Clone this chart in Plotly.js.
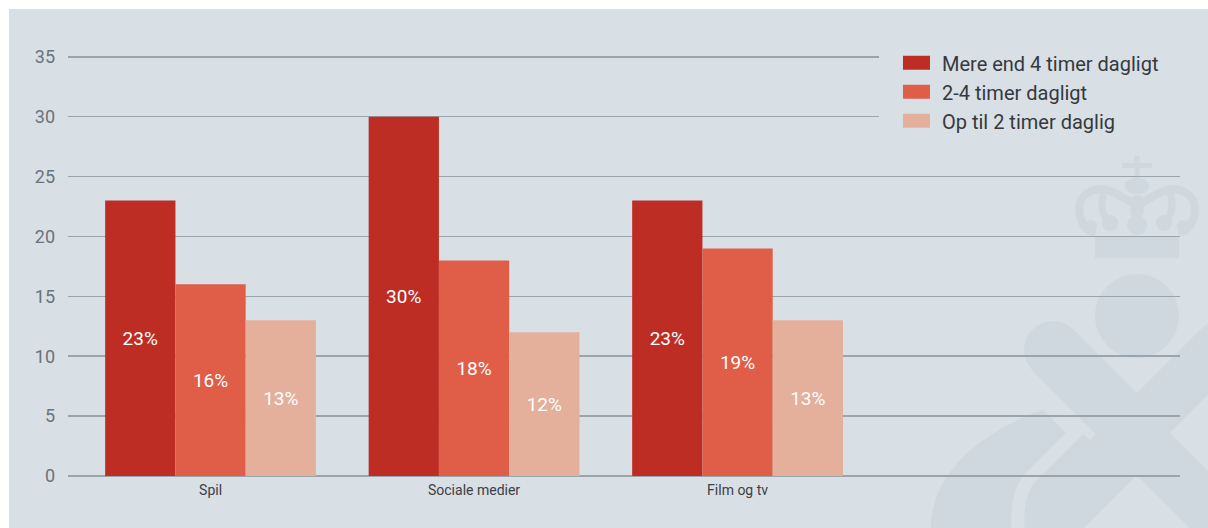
<!DOCTYPE html>
<html>
<head>
<meta charset="utf-8">
<script src="https://cdn.plot.ly/plotly-3.0.1.min.js"></script>
<style>
  html, body { margin: 0; padding: 0; background: #ffffff; }
  #wrap { position: relative; width: 1208px; height: 528px; overflow: hidden; }
  #panel { position: absolute; left: 9px; top: 9px; right: 0; bottom: 0; background: #d8dfe5; }
  #emblem { position: absolute; left: 0; top: 0; }
  #chart { position: absolute; left: 0; top: 0; width: 1208px; height: 528px; }
</style>
</head>
<body>
<div id="wrap">
  <div id="panel"></div>
  <!-- faint crown-and-figure emblem in the panel background -->
  <svg id="emblem" width="1208" height="528" viewBox="0 0 1208 528">
    <g fill="#ced8de" stroke="none">
      <!-- crown -->
      <rect x="1134.5" y="151" width="5" height="28"/>
      <rect x="1122" y="163" width="30" height="5"/>
      <ellipse cx="1137" cy="186" rx="12" ry="8"/>
      <rect x="1095" y="237" width="84" height="21"/>
      <circle cx="1110" cy="223" r="8"/>
      <circle cx="1164" cy="223" r="8"/>
      <circle cx="1137" cy="225" r="10"/>
      <circle cx="1137" cy="211" r="7"/>
      <circle cx="1137" cy="201" r="6"/>
      <circle cx="1091" cy="226" r="6"/>
      <circle cx="1183" cy="226" r="6"/>
      <!-- head -->
      <circle cx="1137" cy="316" r="42"/>
      <!-- lower left sweep -->
      <path d="M931,528 C931,470 985,430 1047,408 L1090,440 L1030,528 Z"/>
    </g>
    <g fill="none" stroke="#ced8de" stroke-linecap="round">
      <path stroke-width="8" d="M1092,232 C1078,226 1076,204 1084,196 C1092,188 1104,188 1112,192 C1122,196 1130,202 1137,206"/>
      <path stroke-width="8" d="M1182,232 C1196,226 1198,204 1190,196 C1182,188 1170,188 1162,192 C1152,196 1144,202 1137,206"/>
      <path stroke-width="7" d="M1103,196 C1100,208 1104,218 1110,223"/>
      <path stroke-width="7" d="M1171,196 C1174,208 1170,218 1164,223"/>
      <!-- crossed arms / body -->
      <line x1="1053" y1="350" x2="1260" y2="557" stroke-width="58"/>
      <line x1="1221" y1="350" x2="1010" y2="561" stroke-width="58"/>
    </g>
    <g fill="none" stroke="#d8dfe5" stroke-width="13" stroke-linejoin="miter">
      <path d="M1046,404 L1075,433 L1030,478 Q1016,494 1018,528"/>
      <path d="M1216,396 L1179,433 L1216,470"/>
      <path d="M1078,545 L1137,486 L1196,545"/>
    </g>
  </svg>
  <div id="chart"></div>
</div>
<script>
// Categories and series (percent of respondents)
const categories = ['Spil', 'Sociale medier', 'Film og tv'];
const seriesNames = ['Mere end 4 timer dagligt', '2-4 timer dagligt', 'Op til 2 timer daglig'];
const over4 = [23, 30, 23];
const from2to4 = [16, 18, 19];
const upTo2 = [13, 12, 13];
const yTicks = [0, 5, 10, 15, 20, 25, 30, 35];

const colors = ['#be2d24', '#e05e48', '#e4b09b'];
const values = [over4, from2to4, upTo2];
const PANEL = '#d8dfe5';
const FONT = 'Roboto, "Open Sans", sans-serif';

const traces = values.map((vals, i) => ({
  type: 'bar',
  name: seriesNames[i],
  legendgroup: 'g' + i,
  x: categories,
  y: vals,
  marker: { color: colors[i], line: { width: 0 } },
  text: vals.map(v => v + '%'),
  textposition: 'inside',
  insidetextanchor: 'middle',
  textangle: 0,
  textfont: { family: FONT, size: 19, color: '#ffffff' },
  hoverinfo: 'skip'
}));

const layout = {
  width: 1208,
  height: 528,
  margin: { l: 68, r: 28, t: 55.2, b: 52.3, pad: 0 },
  paper_bgcolor: 'rgba(0,0,0,0)',
  plot_bgcolor: 'rgba(0,0,0,0)',
  barmode: 'group',
  bargap: 0.2,
  bargroupgap: 0,
  showlegend: true,
  legend: {
    x: 0.7293, xanchor: 'left',
    y: 1.066, yanchor: 'top',
    bgcolor: PANEL,
    bordercolor: PANEL,
    borderwidth: 16,
    itemwidth: 37,
    font: { family: FONT, size: 20, color: '#34393e' },
    tracegroupgap: 2,
    traceorder: 'normal'
  },
  xaxis: {
    type: 'category',
    categoryarray: categories,
    range: [-0.541, 3.679],
    showgrid: false,
    zeroline: false,
    showline: false,
    ticks: '',
    tickfont: { family: FONT, size: 14, color: '#3c4146' },
    ticklabelstandoff: 4,
    fixedrange: true
  },
  yaxis: {
    range: [0, 35.15],
    tickvals: yTicks,
    ticktext: yTicks.map(String),
    showgrid: true,
    gridcolor: '#9aa4ac',
    gridwidth: 1.6,
    zeroline: true,
    zerolinecolor: '#9aa4ac',
    zerolinewidth: 1.6,
    showline: false,
    ticks: '',
    tickfont: { family: FONT, size: 18, color: '#6b737b' },
    ticklabelstandoff: 12,
    fixedrange: true
  }
};

Plotly.newPlot('chart', traces, layout, { displayModeBar: false, staticPlot: true }).then(gd => {
  // wider rectangular swatches in the legend
  gd.querySelectorAll('.legend .legendpoints path').forEach(p => {
    p.setAttribute('d', 'M-15.5,-7H11.5V7H-15.5Z');
  });
});
</script>
</body>
</html>
